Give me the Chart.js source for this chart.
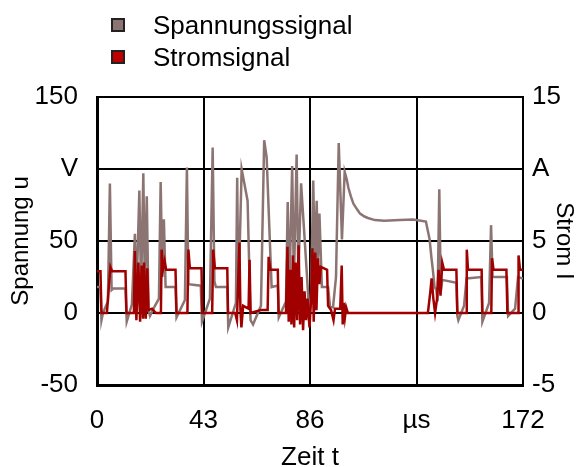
<!DOCTYPE html>
<html>
<head>
<meta charset="utf-8">
<script src="https://cdn.jsdelivr.net/npm/chart.js@4/dist/chart.umd.min.js"></script>
<style>
body { margin: 0; background: #fff; font-family: "Liberation Sans", Arial, sans-serif; }
#wrap { position: relative; width: 586px; height: 467px; }
.leg { position: absolute; left: 111px; font-size: 26px; color: #000; line-height: 26px; white-space: nowrap; }
.leg span { display: inline-block; width: 10px; height: 10px; border: 2px solid #222; vertical-align: top; margin-top: 6px; margin-right: 28px; }
</style>
</head>
<body>
<div id="wrap">
  <canvas id="chart" width="586" height="467"></canvas>
  <div class="leg" style="top:12px"><span style="background:#8c7472"></span>Spannungssignal</div>
  <div class="leg" style="top:44px"><span style="background:#c00000"></span>Stromsignal</div>
</div>
<script>
// time in µs, voltage in V, current in A
const voltT = [0, 1.4, 1.8, 2.4, 4.4, 5.2, 5.9, 6.5, 11.5, 12.0, 14.1, 15.3, 15.9, 17.1, 17.8, 18.7, 19.3, 20.1, 20.8, 21.4,
    23.4, 25.0, 25.7, 26.4, 27.0, 27.7, 31.7, 32.1, 35.5, 36.3, 36.9, 41.9, 42.4, 45.6, 46.7, 47.4, 48.0, 52.6, 53.0, 56.1,
    56.6, 57.1, 58.4, 60.8, 62.0, 63.0, 66.2, 67.5, 68.5, 70.5, 73.0, 73.4, 76.3, 77.0, 77.7, 78.8, 79.5, 80.6, 81.3, 82.4,
    84.7, 85.6, 86.4, 87.3, 88.0, 88.7, 89.2, 89.8, 90.8, 93.3, 94.1, 95.3, 96.5, 97.6, 98.9, 100.0, 100.8, 101.5, 102.5, 103.5,
    105.0, 106.2, 108.0, 109.4, 112.2, 116.0, 122.3, 127.6, 132.8, 134.3, 135.0, 135.6, 136.3, 137.0, 137.5, 138.2, 138.8, 139.4, 145.1, 145.5,
    145.9, 148.2, 149.2, 155.2, 155.6, 158.3, 159.1, 159.7, 165.5, 166.0, 168.8, 170.0, 172];
const voltV = [18, 18, -5, 0, 8, 90, 16, 17, 17, -6, 6, 55, 10, 85, 15, 97, 20, 81, 2, -2,
    5, 10, 91, 25, 65, 18, 18, -3, 9, 101, 20, 19, -6, 10, 115, 22, 18, 18, -10, 7,
    94, 10, 100, 78, -5, -8, 5, 120, 108, 18, 19, -3, 8, 77, 15, 102, 20, 110, 25, 90,
    28, 2, 10, 92, 30, 78, 35, 69, 18, 18, 4, 4, 25, 118, 51, 98, 93, 87, 81, 76,
    72, 69, 67, 66, 64.5, 64, 64.5, 65, 63.5, 51, 39, 30, 18, 16, 8, 86, 15, 23, 21, -2,
    -5, 5, 24, 25, -6, 7, 61, 25, 25, -2, 3, 25, 24];

const currT = [0, 1.4, 1.8, 4.0, 5.4, 6.1, 11.5, 11.9, 14.9, 15.3, 15.9, 16.7, 17.4, 18.0, 18.6, 19.0, 19.7, 20.3, 20.8, 22.2,
    23.8, 25.8, 26.1, 26.6, 27.3, 27.9, 31.7, 32.1, 36.5, 36.9, 37.5, 42.2, 42.5, 46.5, 46.9, 47.6, 52.6, 52.9, 55.8, 56.5,
    57.5, 57.9, 58.3, 59.0, 61.2, 61.6, 62.0, 66.2, 68.9, 69.3, 70.0, 73.0, 73.3, 76.3, 76.9, 77.4, 78.0, 78.5, 79.1, 79.6,
    80.2, 80.8, 81.4, 82.0, 82.6, 83.2, 83.8, 84.4, 85.0, 85.8, 86.4, 87.0, 87.5, 88.1, 88.6, 89.2, 89.8, 90.4, 92.9, 93.3,
    94.5, 95.5, 96.1, 98.2, 98.8, 99.2, 99.6, 100.1, 100.6, 101.3, 133.6, 134.6, 135.1, 135.8, 136.5, 137.3, 137.9, 138.7, 139.4, 140.1,
    145.1, 145.5, 149.0, 149.3, 149.8, 155.3, 155.6, 159.2, 159.5, 160.1, 165.3, 165.7, 170.0, 170.2, 170.8, 172];
const currI = [2.9, 2.9, 0, 0, 3.2, 2.9, 2.9, 0, 0, 4.3, -0.5, 3.5, -0.6, 3.3, -0.4, 3.5, -0.4, 3.1, 0.2, 0.3,
    0, 0, 4.4, 3.0, 3.6, 3.0, 3.0, 0, 0, 4.4, 3.1, 3.1, 0, 0, 4.4, 3.1, 3.1, 0, 0, -0.5,
    4.9, 0.3, -1.0, 0.5, 0.3, 3.7, 0, 0.2, 0.2, 3.9, 3.0, 3.0, 0, 0, 4.6, -0.6, 3.0, -0.8, 4.0, -1.0,
    3.5, -0.5, 4.7, -0.8, 2.5, -1.2, 1.5, -0.5, 1.0, -1.0, 0.8, 4.5, -0.6, 4.2, 0.2, 3.8, 2.0, 3.2, 3.0, 0.5,
    0.2, -0.5, 0.3, 0.3, 3.3, -0.8, 0.7, -0.3, 0.4, 0, 0, 1.5, 2.4, 1.0, 0, 1.0, 3.0, 1.2, 3.5, 3.0,
    3.0, 0, 0, 4.4, 3.0, 3.0, 0, 0, 3.8, 3.0, 3.0, 0, 0, 4.0, 3.0, 3.0];

const xTicks = [0, 43, 86, 129, 172];
const xTickLabels = ['0', '43', '86', 'µs', '172'];
const uTicks = [-50, 0, 50, 100, 150];
const uTickLabels = ['-50', '0', '50', 'V', '150'];
const iTicks = [-5, 0, 5, 10, 15];
const iTickLabels = ['-5', '0', '5', 'A', '15'];

const font = { family: '"Liberation Sans", Arial, sans-serif', size: 26 };
const sideFont = { family: '"Liberation Sans", Arial, sans-serif', size: 24 };

let chart = new Chart('chart', {
    type: 'line',
    data: {
        datasets: [{
            label: 'Spannungssignal',
            data: voltT.map((t, i) => ({ x: t, y: voltV[i] })),
            borderColor: '#8c7472',
            backgroundColor: '#8c7472',
            borderWidth: 2.5,
            pointRadius: 0,
            yAxisID: 'y',
            order: 2
        }, {
            label: 'Stromsignal',
            data: currT.map((t, i) => ({ x: t, y: currI[i] })),
            borderColor: '#a00000',
            backgroundColor: '#c00000',
            borderWidth: 2.5,
            pointRadius: 0,
            yAxisID: 'y1',
            order: 1
        }]
    },
    options: {
        responsive: false,
        animation: false,
        layout: { padding: { top: 97, left: 0, right: 0, bottom: 0 } },
        plugins: { legend: { display: false }, tooltip: { enabled: false } },
        scales: {
            x: {
                type: 'linear', min: 0, max: 172,
                afterBuildTicks: s => { s.ticks = xTicks.map(v => ({ value: v })); },
                afterFit: s => { s.height = 82; },
                ticks: { callback: (v, i) => xTickLabels[i], color: '#000', font: font, padding: 20, maxRotation: 0 },
                grid: { color: '#000', lineWidth: 2, drawTicks: false },
                border: { color: '#000', width: 3 },
                title: { display: true, text: 'Zeit t', color: '#000', font: font, padding: { top: 0, bottom: -6 } }
            },
            y: {
                position: 'left', min: -50, max: 150,
                afterBuildTicks: s => { s.ticks = uTicks.map(v => ({ value: v })); },
                afterFit: s => { s.width = 97; },
                ticks: { callback: (v, i) => uTickLabels[i], color: '#000', font: font, padding: 19 },
                grid: { color: '#000', lineWidth: 2, drawTicks: false },
                border: { color: '#000', width: 3 },
                title: { display: true, text: 'Spannung u', color: '#000', font: sideFont, padding: 7 }
            },
            y1: {
                position: 'right', min: -5, max: 15,
                afterBuildTicks: s => { s.ticks = iTicks.map(v => ({ value: v })); },
                afterFit: s => { s.width = 63; },
                ticks: { callback: (v, i) => iTickLabels[i], color: '#000', font: font, padding: 9 },
                grid: { drawOnChartArea: false, drawTicks: false },
                border: { color: '#000', width: 2 },
                title: { display: true, text: 'Strom I', color: '#000', font: sideFont, padding: 8 }
            }
        }
    }
});
</script>
</body>
</html>
